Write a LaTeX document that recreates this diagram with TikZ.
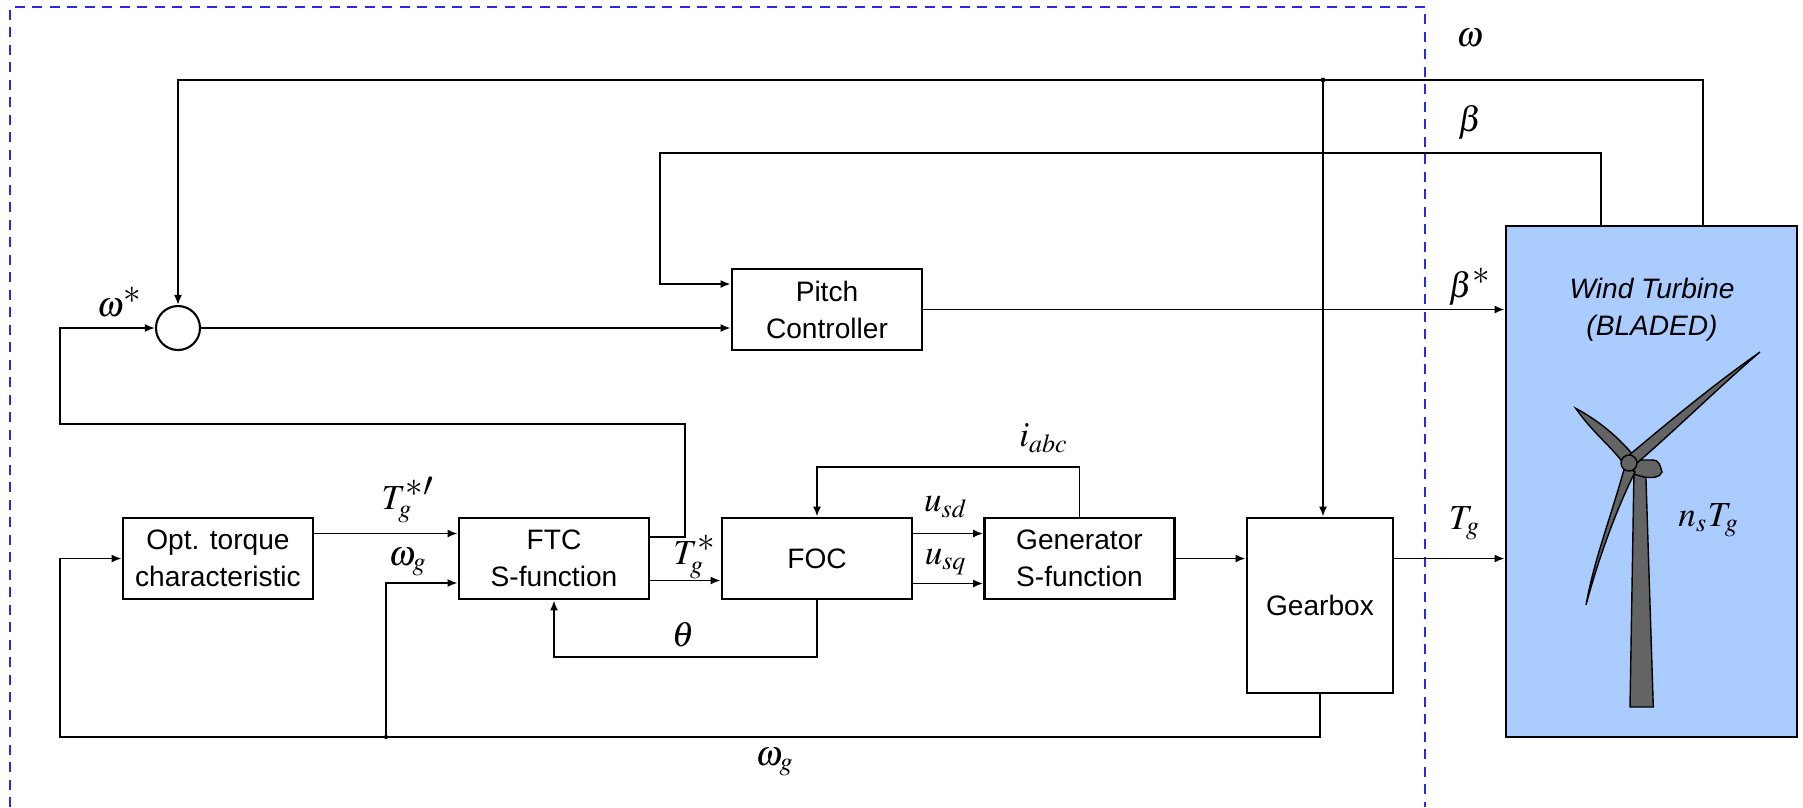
\documentclass[tikz,border=0pt]{standalone}
\usepackage{mathptmx}
\usepackage{fontspec}
\setsansfont{Liberation Sans}
\usetikzlibrary{arrows.meta}
\definecolor{bladed}{RGB}{170,204,255}
\definecolor{towergray}{RGB}{100,100,100}
\definecolor{frameblue}{RGB}{40,40,230}

\begin{document}
\begin{tikzpicture}[
  font=\sffamily\fontsize{8}{10.5}\selectfont,
  block/.style={rectangle,draw=black,line width=0.8pt,minimum width=19mm,minimum height=8.1mm,inner sep=0pt,align=center},
  sumnode/.style={circle,draw=black,line width=0.6pt,minimum size=4.4mm,inner sep=0pt},
  sig/.style={-{Latex[length=1mm,width=0.8mm]},line width=0.5pt,black},
  lab/.style={font=\fontsize{10}{12}\selectfont,inner sep=0pt},
  rotor/.style={fill=towergray,draw=black,line width=0.4pt},
]
\useasboundingbox (0,0) rectangle (18.03,-8.07);
% controller side boundary
\draw[frameblue,line width=0.6pt,dash pattern=on 1mm off 0.75mm] (0.10,-8.07) -- (0.10,-0.07) -- (14.25,-0.07) -- (14.25,-8.07);

% blocks
\node[sumnode] (sum) at (1.78,-3.28) {};
\node[block] (pitch) at (8.27,-3.095) {Pitch\\Controller};
\node[block] (opt) at (2.18,-5.585) {Opt. torque\\characteristic};
\node[block] (ftc) at (5.54,-5.585) {FTC\\S-function};
\node[block] (foc) at (8.17,-5.585) {FOC};
\node[block] (gen) at (10.795,-5.585) {Generator\\S-function};
\node[block,minimum width=14.6mm,minimum height=17.5mm] (gear) at (13.20,-6.055) {Gearbox};
\node[block,fill=bladed,minimum width=29.1mm,minimum height=51.1mm] (wt) at (16.515,-4.815) {};
\node[align=center,font=\sffamily\itshape\fontsize{8}{10.5}\selectfont] (wtname) at (16.52,-3.10) {Wind Turbine\\(BLADED)};

% turbine sketch
\fill[rotor] (16.30,-7.07) -- (16.533,-7.07) -- (16.457,-4.70) -- (16.34,-4.70) -- cycle;
\fill[rotor] (16.36,-4.60) -- (16.52,-4.60) .. controls (16.60,-4.60) and (16.60,-4.66) .. (16.62,-4.72) .. controls (16.60,-4.78) and (16.52,-4.78) .. (16.44,-4.77) -- (16.33,-4.74) -- cycle;
\fill[rotor] (16.24,-4.64) .. controls (16.10,-4.45) and (15.93,-4.33) .. (15.757,-4.083) .. controls (15.94,-4.18) and (16.16,-4.34) .. (16.34,-4.56) -- cycle;
\fill[rotor] (16.28,-4.56) .. controls (16.78,-4.14) and (17.20,-3.80) .. (17.60,-3.52) .. controls (17.20,-3.86) and (16.82,-4.24) .. (16.37,-4.63) -- cycle;
\fill[rotor] (16.25,-4.66) .. controls (16.10,-5.20) and (15.94,-5.60) .. (15.86,-6.05) .. controls (15.98,-5.60) and (16.16,-5.10) .. (16.35,-4.72) -- cycle;
\fill[rotor] (16.29,-4.63) circle (0.08);

% speed and pitch feedback
\coordinate (wtop) at (17.03,-0.80);
\coordinate (tap) at (13.23,-0.80);
\coordinate (btop) at (16.01,-1.53);
\coordinate (bin) at (6.60,-2.84);
\draw[sig] (wt.north -| wtop) -- (wtop) -- (wtop -| sum) -- (sum.north);
\fill (tap) circle (0.7pt);
\draw[sig] (tap) -- (tap |- gear.north);
\draw[sig] (wt.north -| btop) -- (btop) -- (btop -| bin) -- (bin) -- (bin -| pitch.west);
\draw[sig] (sum.east) -- (sum.east -| pitch.west);
\draw[sig] (pitch.east) -- (pitch.east -| wt.west);

% torque loop
\coordinate (fb) at (6.85,-5.37);
\coordinate (fbl) at (0.60,-4.24);
\coordinate (bl) at (0.60,-7.37);
\coordinate (br) at (3.86,-7.37);
\coordinate (win) at (3.86,-5.83);
\coordinate (th) at (8.17,-6.57);
\coordinate (ia) at (10.80,-4.67);
\draw[sig] (ftc.east |- fb) -- (fb) -- (fb |- fbl) -- (fbl) -- (fbl |- sum) -- (sum.west);
\draw[sig] (gear.south) -- (gear.south |- bl) -- (bl) -- (bl |- opt.west) -- (opt.west);
\fill (br) circle (0.6pt);
\draw[sig] (br) -- (win) -- (win -| ftc.west);
\draw[sig] ([yshift=2.5mm]opt.east) -- ([yshift=2.5mm]ftc.west);
\draw[sig] ([yshift=-2.2mm]ftc.east) -- ([yshift=-2.2mm]foc.west);
\draw[sig] (foc.south) -- (foc.south |- th) -- (ftc.south |- th) -- (ftc.south);
\draw[sig] (gen.north) -- (gen.north |- ia) -- (foc.north |- ia) -- (foc.north);
\draw[sig] ([yshift=2.5mm]foc.east) -- ([yshift=2.5mm]gen.west);
\draw[sig] ([yshift=-2.5mm]foc.east) -- ([yshift=-2.5mm]gen.west);
\draw[sig] (gen.east) -- (gen.east -| gear.west);
\draw[sig] (gen.east -| gear.east) -- (gen.east -| wt.west);

% signal names
\node[lab] (lwref) at (1.20,-3.02) {$\omega^{\textstyle *}$};
\node[lab] (lw) at (14.70,-0.38) {$\omega$};
\node[lab] (lb) at (14.70,-1.22) {$\beta$};
\node[lab] (lbref) at (14.70,-2.87) {$\beta^{\textstyle *}$};
\node[lab] (ltopt) at (4.08,-5.00) {$T_g^{\textstyle *\prime}$};
\node[lab] (lwg) at (4.08,-5.62) {$\omega_g$};
\node[lab] (ltref) at (6.95,-5.57) {$T_g^{\textstyle *}$};
\node[lab] (lth) at (6.83,-6.35) {$\theta$};
\node[lab] (lwgb) at (7.75,-7.62) {$\omega_g$};
\node[lab] (liabc) at (10.44,-4.38) {$i_{abc}$};
\node[lab] (lusd) at (9.46,-5.07) {$u_{sd}$};
\node[lab] (lusq) at (9.46,-5.62) {$u_{sq}$};
\node[lab] (ltg) at (14.65,-5.23) {$T_g$};
\node[lab] (lnst) at (17.09,-5.20) {$n_s T_g$};
\end{tikzpicture}
\end{document}
